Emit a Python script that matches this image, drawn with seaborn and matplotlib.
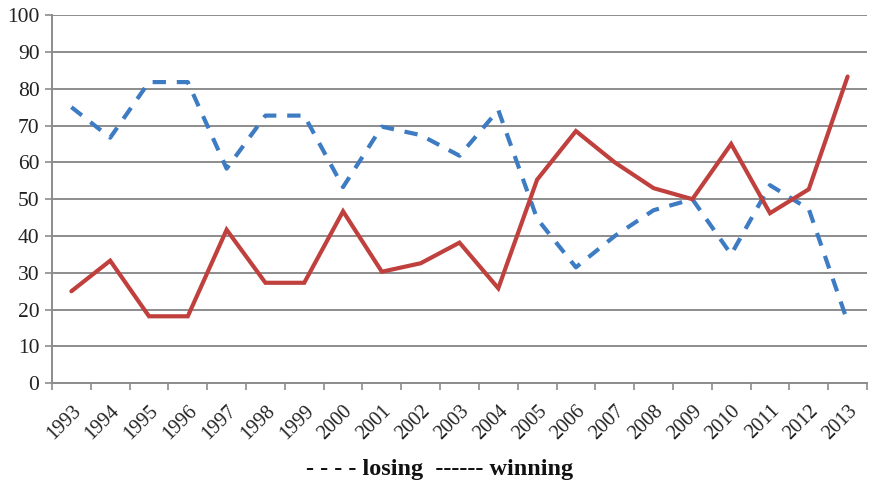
import matplotlib
matplotlib.use("Agg")
import matplotlib.pyplot as plt
import matplotlib.transforms as mtransforms
import seaborn as sns
import pandas as pd
import numpy as np
from matplotlib.ticker import FixedLocator

years = [1993, 1994, 1995, 1996, 1997, 1998, 1999, 2000, 2001, 2002, 2003,
         2004, 2005, 2006, 2007, 2008, 2009, 2010, 2011, 2012, 2013]
losing = [75.0, 66.7, 81.8, 81.8, 58.3, 72.7, 72.7, 53.3, 69.7, 67.4, 61.8,
          74.2, 44.7, 31.5, 40.0, 47.0, 50.0, 35.0, 53.8, 47.3, 16.7]
winning = [25.0, 33.3, 18.2, 18.2, 41.7, 27.3, 27.3, 46.7, 30.3, 32.6, 38.2,
           25.8, 55.3, 68.5, 60.0, 53.0, 50.0, 65.0, 46.2, 52.7, 83.3]

pos = np.arange(len(years))
df = pd.DataFrame({
    "pos": np.concatenate([pos, pos]),
    "value": losing + winning,
    "series": ["losing"] * len(years) + ["winning"] * len(years),
})

sns.set_theme(style="white")
plt.rcParams["font.family"] = ["Liberation Serif", "DejaVu Serif"]

fig = plt.figure(figsize=(8.69, 4.86), dpi=100)
ax = fig.add_axes([0.0598, 0.2113, 0.9379, 0.7577])

grid_c = "#8c8c8c"
ax.set_ylim(0, 100)
ax.set_xlim(-0.5, len(years) - 0.5)
ax.yaxis.set_major_locator(FixedLocator(np.arange(0, 101, 10)))
ax.grid(axis="y", color=grid_c, linewidth=1.4, zorder=0)
ax.set_axisbelow(True)

sns.lineplot(data=df, x="pos", y="value", hue="series", style="series",
             palette={"losing": "#3d7bc3", "winning": "#c0403d"},
             dashes={"losing": (3.2, 2.6), "winning": ""},
             linewidth=3.0, legend=False, ax=ax, zorder=3)
for line in ax.get_lines():
    line.set_dash_capstyle("butt")
    line.set_solid_joinstyle("miter")

ax.set_xlabel("")
ax.set_ylabel("")
ax.set_xticks(pos)
ax.set_xticklabels([str(y) for y in years], rotation=45, ha="right",
                   rotation_mode="anchor", fontsize=14.5, color="#222222")
shift = mtransforms.ScaledTranslation(-3 / 100, 0, fig.dpi_scale_trans)
for lab in ax.get_xticklabels():
    lab.set_transform(lab.get_transform() + shift)
ax.xaxis.set_minor_locator(FixedLocator(np.arange(-0.5, len(years), 1.0)))
ax.tick_params(axis="x", which="major", length=0, pad=13)
ax.tick_params(axis="x", which="minor", length=5, width=1.2, color=grid_c,
               direction="out", bottom=True)
ax.tick_params(axis="y", which="major", length=5, width=1.2, color=grid_c,
               direction="out", left=True, labelsize=15.5, labelcolor="#222222",
               pad=4)

for side in ["top", "right"]:
    ax.spines[side].set_visible(False)
for side in ["left", "bottom"]:
    ax.spines[side].set_color(grid_c)
    ax.spines[side].set_linewidth(1.4)

fig.text(0.506, 0.034, "- - - - losing  ------ winning", ha="center",
         va="center", fontsize=17.5, fontweight="bold", color="#111111")

fig.savefig("out.png", dpi=100)
